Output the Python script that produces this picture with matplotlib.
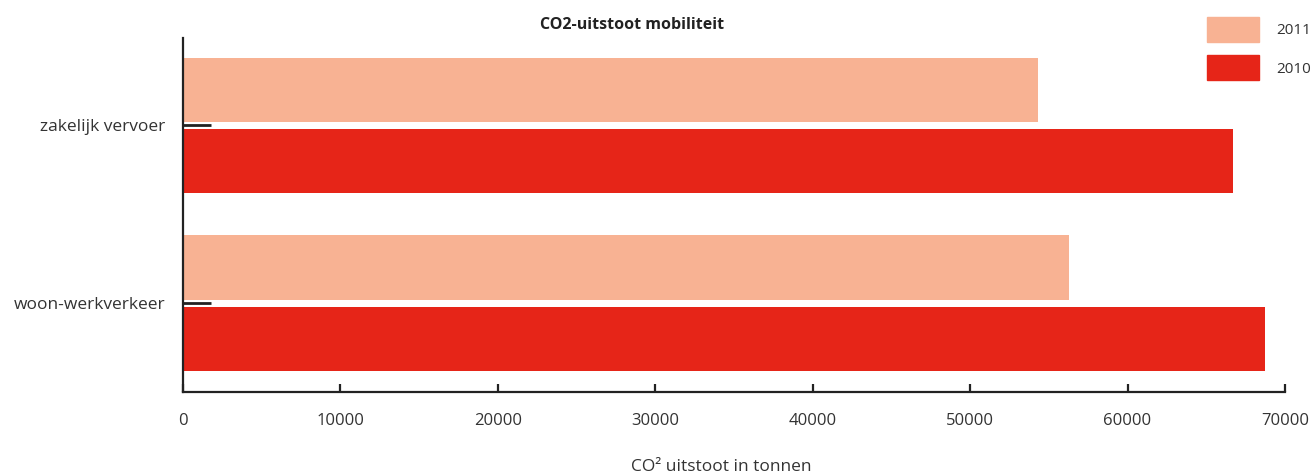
import matplotlib.pyplot as plt
from matplotlib.patches import Patch
import numpy as np

plt.rcParams["font.family"] = ["Open Sans", "DejaVu Sans"]

categories = ["woon-werkverkeer", "zakelijk vervoer"]
series_names = ["2011", "2010"]
values_2011 = [56260, 54290]
values_2010 = [68720, 66690]
colors = {"2011": "#F8B293", "2010": "#E62518"}

fig = plt.figure(figsize=(13.12, 4.76), dpi=100)
ax = fig.add_axes([0.1395, 0.1765, 0.8399, 0.7435])

y = np.arange(len(categories))
h = 0.36
off = 0.2
ax.barh(y + off, values_2011, height=h, color=colors["2011"], label="2011")
ax.barh(y - off, values_2010, height=h, color=colors["2010"], label="2010")

ax.set_xlim(0, 70000)
ax.set_ylim(-0.5, 1.49)
ax.set_xticks(range(0, 70001, 10000))
ax.set_yticks(y)
ax.set_yticklabels(categories)

for s in ["top", "right"]:
    ax.spines[s].set_visible(False)
for s in ["left", "bottom"]:
    ax.spines[s].set_linewidth(1.6)
    ax.spines[s].set_color("#222222")

ax.tick_params(axis="x", direction="in", length=6, width=1.6, color="#222222",
               pad=15, labelsize=12, labelcolor="#333333")
ax.tick_params(axis="y", direction="in", length=20, width=2, color="#222222",
               pad=13, labelsize=12.5, labelcolor="#333333")

fig.text(0.482, 0.947, "CO2-uitstoot mobiliteit", ha="center", va="center",
         fontsize=11.5, fontweight="bold", color="#222222")
fig.text(0.5495, 0.018, "CO² uitstoot in tonnen", ha="center", va="center",
         fontsize=12.5, color="#333333")

handles = [Patch(color=colors[n], label=n) for n in series_names]
ax.legend(handles=handles, loc="upper left", bbox_to_anchor=(0.92, 0.964),
          bbox_transform=fig.transFigure, frameon=False, fontsize=11,
          handlelength=3.4, handleheight=2.15, labelspacing=0.85,
          handletextpad=1.1, borderaxespad=0, borderpad=0,
          labelcolor="#333333")

fig.savefig("out.png", dpi=100)
